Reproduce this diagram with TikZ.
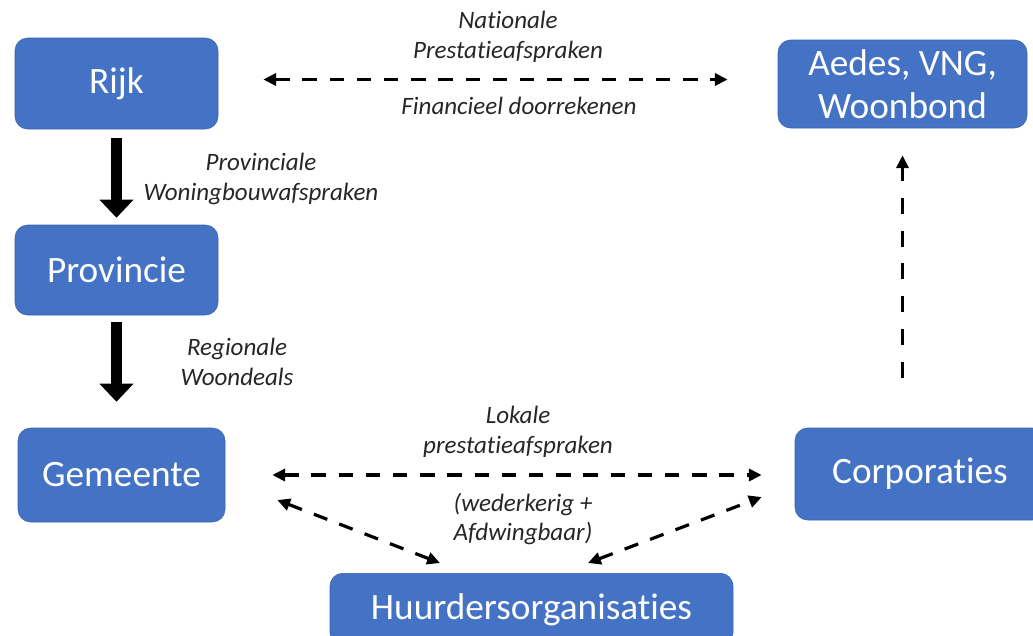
\documentclass[tikz,border=0pt]{standalone}
\usepackage{fontspec}
\setmainfont[RawFeature={-liga;-clig;-calt;-dlig}]{Carlito}
\usetikzlibrary{arrows.meta,calc}
\definecolor{orgblue}{RGB}{68,114,196}
\definecolor{orgedge}{RGB}{58,98,172}
\tikzset{
  orgbox/.style={rectangle, rounded corners=9pt, draw=orgedge, thin, fill=orgblue,
                 text=white, align=center, inner sep=0pt,
                 font=\fontsize{26.5}{31}\selectfont},
  bigar/.style={-{Triangle[length=0.45cm, width=0.85cm, line width=0pt]}, line width=0.28cm},
  dar/.style={{Triangle[length=0.32cm, width=0.3cm]}-{Triangle[length=0.32cm, width=0.3cm]},
              line width=0.08cm, dash pattern=on 0.36cm off 0.32cm},
  darup/.style={-{Triangle[length=0.32cm, width=0.3cm]},
                line width=0.08cm, dash pattern=on 0.4cm off 0.42cm},
  lbl/.style={font=\fontsize{17.8}{21.3}\selectfont\itshape, align=center,
              inner sep=0pt, text=black!85},
}

\begin{document}
\begin{tikzpicture}
\useasboundingbox (0,0) rectangle (25.825,-15.9);
\clip (0,0) rectangle (25.825,-15.9);

% ===================== left column: rijk -> provincie -> gemeente ========
\node[orgbox, minimum width=5.075cm, minimum height=2.275cm] (rijk) at (2.9125,-2.0875) {Rijk};
\node[orgbox, minimum width=5.075cm, minimum height=2.25cm] (prov) at (2.9125,-6.75) {Provincie};
\node[orgbox, minimum width=5.175cm, minimum height=2.35cm] (gem) at (3.0375,-11.875) {Gemeente};

\draw[bigar, shorten <=0.225cm, shorten >=0.175cm] (rijk.south) -- (prov.north);
\draw[bigar, shorten <=0.175cm, shorten >=0.65cm] (prov.south) -- (prov.south |- gem.north);

\node[lbl] (provlbl) at (6.525,-4.475) {Provinciale\\Woningbouwafspraken};
\node[lbl] (reglbl) at (5.925,-9.05) {Regionale\\Woondeals};

% ===================== right column ======================================
\node[orgbox, minimum width=6.225cm, minimum height=2.2cm] (aedes) at (22.5625,-2.1) {Aedes, VNG,\\Woonbond};
\node[orgbox, minimum width=6.25cm, minimum height=2.3cm] (corp) at (23.0,-11.85) {Corporaties};
\node[orgbox, minimum width=10.075cm, minimum height=1.8cm, anchor=north] (huur) at (13.2875,-14.325) {Huurdersorganisaties};

% ---- national level ----
\draw[dar, shorten <=1.125cm, shorten >=1.25cm]
  ([yshift=0.1cm]rijk.east) -- ([yshift=0.1cm]rijk.east -| aedes.west);
\node[lbl] (natlbl) at (12.7,-0.925) {Nationale\\Prestatieafspraken};
\node[lbl] (finlbl) at (12.975,-2.65) {Financieel doorrekenen};

\draw[darup, shorten <=1.25cm, shorten >=0.675cm] (aedes.south |- corp.north) -- (aedes.south);

% ---- local level ----
\draw[dar, shorten <=1.175cm, shorten >=0.825cm] (gem.east) -- (gem.east -| corp.west);
\node[lbl] (loklbl) at (12.95,-10.8) {Lokale\\prestatieafspraken};
\node[lbl] (wedlbl) at (13.075,-12.975) {(wederkerig +\\Afdwingbaar)};

\draw[dar] ([xshift=1.3cm, yshift=-0.625cm]gem.east) -- ([xshift=-2.2875cm, yshift=0.25cm]huur.north);
\draw[dar] ([xshift=1.4125cm, yshift=0.25cm]huur.north) -- ([xshift=-0.825cm, yshift=-0.575cm]corp.west);

\end{tikzpicture}
\end{document}
